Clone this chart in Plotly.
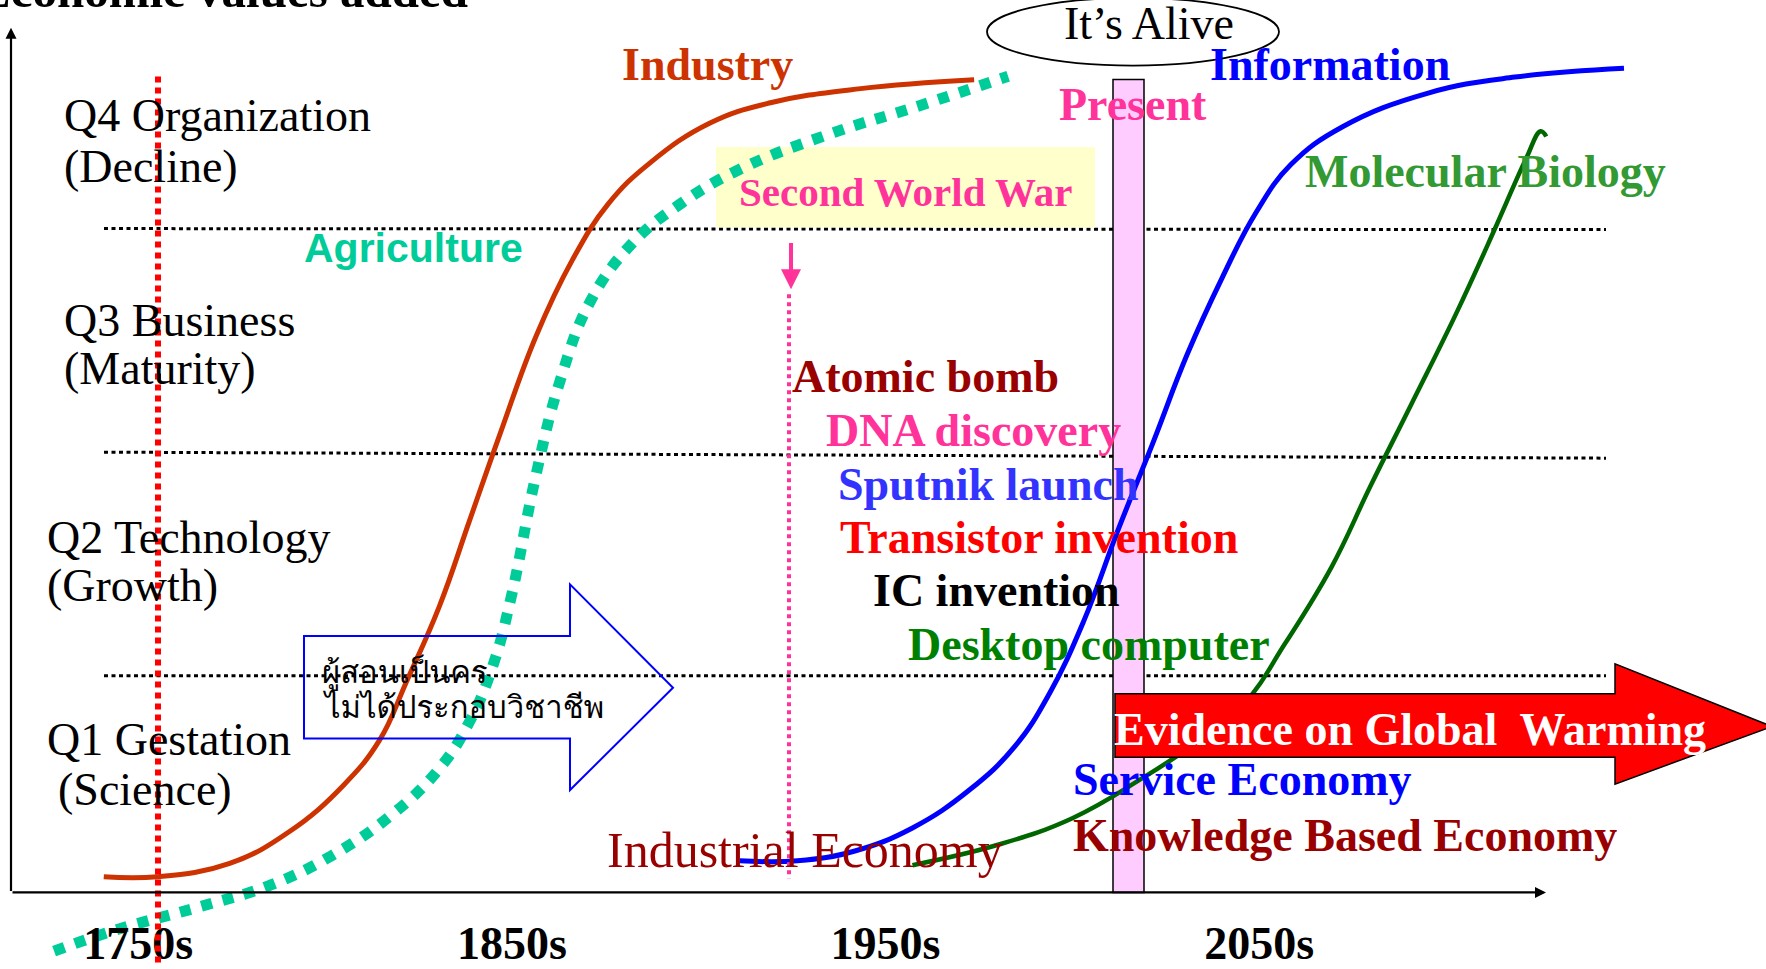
import plotly.graph_objects as go

# ---------------- data (x in years, y in "economic value added" units) ----------------
industry_year = [1740.8, 1755.2, 1774.5, 1790.5, 1804.9, 1814.6, 1821.8, 1830.6, 1838.7, 1846.8,
                 1856.5, 1866.1, 1875.8, 1886.9, 1902.9, 1919.2, 1943.3, 1973.7]
industry_value = [2.0, 2.0, 3.5, 7.1, 12.3, 17.4, 24.0, 32.5, 42.2, 51.9,
                  63.0, 71.5, 77.9, 82.5, 87.0, 89.3, 90.9, 91.9]

agriculture_year = [1727.5, 1744.1, 1766.4, 1785.7, 1801.9, 1817.9, 1830.6, 1838.7, 1845.0, 1849.9,
                    1856.5, 1862.8, 1871.0, 1882.1, 1895.1, 1911.0, 1935.2, 1959.3, 1982.8]
agriculture_value = [-6.4, -4.0, -1.4, 1.1, 4.4, 9.0, 14.2, 19.5, 25.9, 33.7,
                     47.4, 57.8, 66.9, 73.4, 77.9, 81.8, 85.8, 89.0, 92.3]

information_year = [1911.0, 1926.4, 1941.8, 1957.2, 1972.5, 1984.6, 1993.9, 2003.0, 2012.3, 2021.6,
                    2030.7, 2040.0, 2049.1, 2058.4, 2072.3, 2095.2, 2118.4, 2147.6]
information_value = [3.8, 3.8, 4.9, 7.5, 11.8, 16.7, 22.7, 30.8, 41.2, 51.0,
                     60.9, 69.5, 76.9, 82.3, 86.6, 90.4, 92.2, 93.2]

biology_year = [1957.2, 1980.1, 2000.0, 2018.3, 2033.7, 2046.1, 2056.9, 2069.3, 2079.8, 2090.7,
                2103.0, 2113.6, 2121.4, 2125.3, 2126.8]
biology_value = [3.3, 5.6, 8.6, 13.0, 17.3, 21.6, 28.3, 36.9, 46.1, 55.3,
                 65.8, 75.6, 83.0, 86.1, 85.5]

tick_years = [1750, 1850, 1950, 2050]
tick_labels = ["1750s", "1850s", "1950s", "2050s"]

stage_labels = ["Q4 Organization", "(Decline)", "Q3 Business", "(Maturity)",
                "Q2 Technology", "(Growth)", "Q1 Gestation", "(Science)"]

event_labels = ["Atomic bomb", "DNA discovery", "Sputnik launch",
                "Transistor invention", "IC invention", "Desktop computer"]
event_colors = ["#990000", "#FF3399", "#3333FF", "#FF0000", "#000000", "#008000"]

thai_lines = ["ผู้สอนเป็นคร", "ไม่ได้ประกอบวิชาชีพ"]

# ---------------- layout helpers (pixel position -> axis coordinates) ----------------
W, H = 1766, 969
A, B = 3.737, -6401.6          # px = A*year + B
Y0, S = 900.0, 8.92            # py = Y0 - S*value


def yr(px):
    return (px - B) / A


def val(py):
    return (Y0 - py) / S


SERIF = "Liberation Serif, Times New Roman, serif"
SANS = "Liberation Sans, Arial, sans-serif"
THAI = "Norasi, Kinnari, Angsana New, Garuda, Loma, Noto Serif Thai, Noto Sans Thai, sans-serif"

fig = go.Figure()

fig.add_trace(go.Scatter(x=industry_year, y=industry_value, mode="lines",
                         line=dict(color="#CC3300", width=5, shape="spline", smoothing=1.2),
                         hoverinfo="skip"))
fig.add_trace(go.Scatter(x=agriculture_year, y=agriculture_value, mode="lines",
                         line=dict(color="#00CC99", width=11, dash="11px,11px", shape="spline", smoothing=1.2),
                         hoverinfo="skip"))
fig.add_trace(go.Scatter(x=information_year, y=information_value, mode="lines",
                         line=dict(color="#0000FF", width=5, shape="spline", smoothing=1.2),
                         hoverinfo="skip"))
fig.add_trace(go.Scatter(x=biology_year, y=biology_value, mode="lines",
                         line=dict(color="#006600", width=4.5, shape="spline", smoothing=1.2),
                         hoverinfo="skip"))

shapes = []
# quartile dotted lines
for (py0, py1) in [(230, 231), (455, 461), (680, 680)]:
    shapes.append(dict(type="line", xref="x", yref="y", x0=yr(104), x1=yr(1606),
                       y0=val(py0), y1=val(py1), layer="below",
                       line=dict(color="black", width=3, dash="4px,3.5px")))
# Second World War box
shapes.append(dict(type="rect", xref="x", yref="y", x0=yr(716), x1=yr(1095),
                   y0=val(229), y1=val(148), fillcolor="#FFFFCC", line=dict(width=0), layer="below"))
# Present bar
shapes.append(dict(type="rect", xref="x", yref="y", x0=yr(1113), x1=yr(1144),
                   y0=val(898), y1=val(80), fillcolor="#FFCCFF",
                   line=dict(color="black", width=1.5), layer="below"))
# red dotted 1750s line
shapes.append(dict(type="line", xref="x", yref="y", x0=yr(158), x1=yr(158),
                   y0=val(77), y1=val(969), layer="above",
                   line=dict(color="#FF0000", width=6, dash="6px,5px")))
# pink dotted WWII line
shapes.append(dict(type="line", xref="x", yref="y", x0=yr(789), x1=yr(789),
                   y0=val(296), y1=val(884), layer="above",
                   line=dict(color="#FF3399", width=4, dash="4px,4px")))
# ellipse
shapes.append(dict(type="circle", xref="x", yref="y", x0=yr(987), x1=yr(1279),
                   y0=val(-2), y1=val(66), layer="above",
                   line=dict(color="black", width=1.8)))


def path(points):
    return "M " + " L ".join(f"{yr(px):.3f},{val(py):.3f}" for px, py in points) + " Z"


# blue outline arrow
shapes.append(dict(type="path", xref="x", yref="y",
                   path=path([(304, 640), (570, 640), (570, 588), (673, 692),
                              (570, 795), (570, 743), (304, 743)]),
                   line=dict(color="#0000FF", width=2), fillcolor="rgba(0,0,0,0)", layer="above"))
# red arrow
shapes.append(dict(type="path", xref="x", yref="y",
                   path=path([(1115, 698), (1615, 698), (1615, 668), (1772, 731),
                              (1615, 789), (1615, 762), (1115, 762)]),
                   line=dict(color="black", width=1.5), fillcolor="#FF0000", layer="above"))

ann = []


def lbl(text, px, py, color="black", size=46, bold=True, anchor="left", family=SERIF):
    t = f"<b>{text}</b>" if bold else text
    ann.append(dict(text=t, x=yr(px), y=val(py), xref="x", yref="y", showarrow=False,
                    xanchor=anchor, yanchor="middle",
                    font=dict(family=family, size=size, color=color)))


# title (clipped at top-left like the original)
ann.append(dict(text="<b>Economic values added</b>", x=-24 / W, y=1 - 20 / H, xref="paper", yref="paper",
                showarrow=False, xanchor="left", yanchor="bottom",
                font=dict(family=SERIF, size=49, color="black")))

stage_left = [62, 62, 62, 62, 45, 45, 45, 56]
stage_y = [116, 168, 322, 371, 541, 589, 744, 794]
for t, lx, ly in zip(stage_labels, stage_left, stage_y):
    lbl(t, lx, ly, bold=False)

lbl("Industry", 707, 65, "#CC3300", anchor="center")
lbl("Agriculture", 413, 250, "#00CC99", size=41, anchor="center", family=SANS)
lbl("Information", 1330, 65, "#0000FF", anchor="center")
lbl("Present", 1133, 105, "#FF3399", anchor="center")
lbl("Molecular Biology", 1485, 173, "#339933", anchor="center")
lbl("Second World War", 905, 193, "#FF3399", size=41, anchor="center")
lbl("It’s Alive", 1149, 24, "black", size=46, bold=False, anchor="center")

event_left = [790, 824, 836, 838, 871, 906]
event_y = [379, 433, 488, 541, 594, 649]
for t, c, lx, ly in zip(event_labels, event_colors, event_left, event_y):
    lbl(t, lx, ly, c)

lbl("Industrial Economy", 605, 855, "#990000", size=50, bold=False)
lbl("Service Economy", 1071, 784, "#0000FF")
lbl("Knowledge Based Economy", 1071, 841, "#990000")
lbl("Evidence on Global  Warming", 1410, 734, "white", anchor="center")

# Thai text inside the blue arrow
for t, ly in zip(thai_lines, [676, 711]):
    lbl(t, 320, ly, "black", size=31, bold=False, family=THAI)

# axes arrows
ann.append(dict(text="", x=yr(1546), y=val(898), ax=yr(11), ay=val(898), axref="x", ayref="y",
                xref="x", yref="y", showarrow=True, arrowhead=2, arrowsize=1, arrowwidth=2.2,
                arrowcolor="black", standoff=0))
ann.append(dict(text="", x=yr(11), y=val(28), ax=yr(11), ay=val(898), axref="x", ayref="y",
                xref="x", yref="y", showarrow=True, arrowhead=2, arrowsize=1, arrowwidth=2.2,
                arrowcolor="black", standoff=0))
# WWII pink arrow
ann.append(dict(text="", x=yr(791), y=val(291), ax=yr(791), ay=val(243), axref="x", ayref="y",
                xref="x", yref="y", showarrow=True, arrowhead=2, arrowsize=1, arrowwidth=4,
                arrowcolor="#FF3399", standoff=0))

fig.update_layout(
    width=W, height=H,
    margin=dict(l=0, r=0, t=0, b=0),
    paper_bgcolor="white", plot_bgcolor="white",
    showlegend=False,
    shapes=shapes, annotations=ann,
    xaxis=dict(range=[yr(0), yr(W)], tickvals=tick_years,
               ticktext=[f"<b>{t}</b>" for t in tick_labels],
               ticklabelposition="inside", ticklabelstandoff=-8, ticks="", showgrid=False,
               zeroline=False, showline=False,
               tickfont=dict(family=SERIF, size=46, color="black"), fixedrange=True),
    yaxis=dict(range=[val(H), val(0)], visible=False, showgrid=False, zeroline=False, fixedrange=True),
)

fig.write_html("out.html", config={"displayModeBar": False},
               post_script="document.body.style.margin='0';document.body.style.overflow='hidden';")
